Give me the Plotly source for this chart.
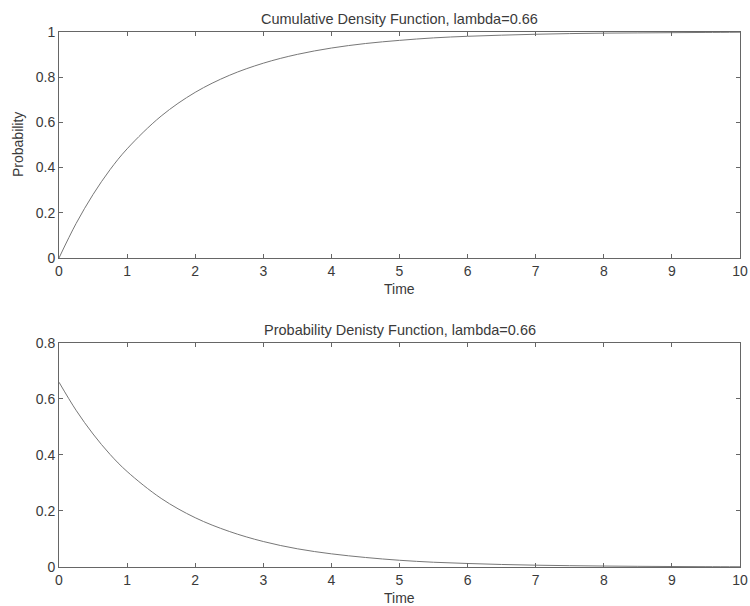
import plotly.graph_objects as go
from plotly.subplots import make_subplots

time = [0, 0.25, 0.5, 0.75, 1, 1.5, 2, 2.5, 3, 3.5, 4, 4.5, 5, 5.5, 6, 6.5, 7, 7.5, 8, 8.5, 9, 9.5, 10]
cdf = [0, 0.152, 0.281, 0.391, 0.483, 0.628, 0.733, 0.808, 0.862, 0.901, 0.929, 0.949, 0.963, 0.974, 0.981, 0.986, 0.990, 0.993, 0.995, 0.996, 0.997, 0.998, 0.999]
pdf = [0.66, 0.560, 0.475, 0.402, 0.341, 0.245, 0.176, 0.127, 0.091, 0.065, 0.047, 0.034, 0.024, 0.017, 0.0125, 0.009, 0.0065, 0.0047, 0.0034, 0.0024, 0.0017, 0.0012, 0.0009]

top_title = "Cumulative Density Function, lambda=0.66"
bottom_title = "Probability Denisty Function, lambda=0.66"
x_label = "Time"
y_label = "Probability"
x_ticks = list(range(0, 11))
top_y_ticks = [0, 0.2, 0.4, 0.6, 0.8, 1]
bottom_y_ticks = [0, 0.2, 0.4, 0.6, 0.8]

font = dict(family="Liberation Sans, Arial, sans-serif", size=14, color="#3a3a3a")
title_font = dict(family="Liberation Sans, Arial, sans-serif", size=14.5, color="#3a3a3a")
frame = "#666666"
curve = "#777777"

top_dom = [0.5776, 1]
bot_dom = [0, 0.4187]

fig = make_subplots(rows=2, cols=1)
fig.add_trace(go.Scatter(x=time, y=cdf, mode="lines", line=dict(color=curve, width=1, shape="spline"), showlegend=False), row=1, col=1)
fig.add_trace(go.Scatter(x=time, y=pdf, mode="lines", line=dict(color=curve, width=1, shape="spline"), showlegend=False), row=2, col=1)

axis_common = dict(showline=True, linecolor=frame, linewidth=1, mirror="ticks", ticks="inside",
                   ticklen=4, tickcolor=frame, showgrid=False, zeroline=False, tickfont=font,
                   automargin=False)

fig.update_layout(
    width=750, height=606,
    margin=dict(l=59, r=10, t=32, b=39),
    plot_bgcolor="white", paper_bgcolor="white",
    font=font,
    xaxis=dict(domain=[0, 1], range=[0, 10], tickvals=x_ticks, anchor="y", **axis_common),
    yaxis=dict(domain=top_dom, range=[0, 1], tickvals=top_y_ticks, anchor="x", **axis_common),
    xaxis2=dict(domain=[0, 1], range=[0, 10], tickvals=x_ticks, anchor="y2", **axis_common),
    yaxis2=dict(domain=bot_dom, range=[0, 0.8], tickvals=bottom_y_ticks, anchor="x2", **axis_common),
    annotations=[
        dict(text=top_title, x=0.5, y=top_dom[1], xref="paper", yref="paper", xanchor="center", yanchor="bottom",
             yshift=3, showarrow=False, font=title_font),
        dict(text=bottom_title, x=0.5, y=bot_dom[1], xref="paper", yref="paper", xanchor="center", yanchor="bottom",
             yshift=3, showarrow=False, font=title_font),
        dict(text=x_label, x=0.5, y=top_dom[0], xref="paper", yref="paper", xanchor="center", yanchor="middle",
             yshift=-31, showarrow=False, font=font),
        dict(text=x_label, x=0.5, y=bot_dom[0], xref="paper", yref="paper", xanchor="center", yanchor="middle",
             yshift=-31, showarrow=False, font=font),
        dict(text=y_label, x=0, y=(top_dom[0] + top_dom[1]) / 2, xref="paper", yref="paper", xanchor="center",
             yanchor="middle", xshift=-41, textangle=-90, showarrow=False, font=font),
    ],
)

fig.write_html("out.html")
